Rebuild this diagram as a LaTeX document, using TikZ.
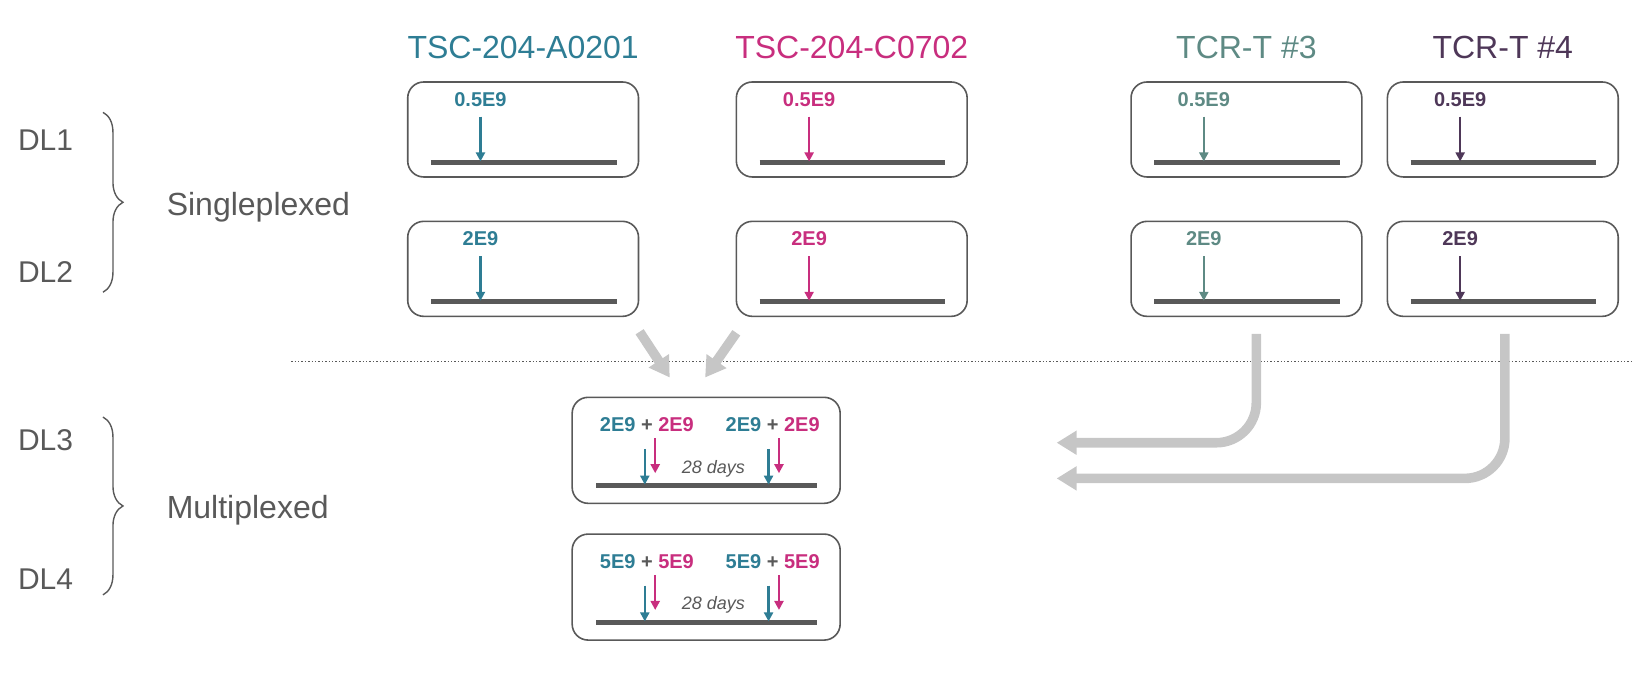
\documentclass[tikz,border=0pt]{standalone}
\usepackage{fontspec}
\setmainfont{Liberation Sans}
\usetikzlibrary{arrows.meta}
\usetikzlibrary{decorations.pathreplacing}
\definecolor{tscA}{RGB}{46,125,148}
\definecolor{tscC}{RGB}{200,46,126}
\definecolor{tcrT}{RGB}{94,138,132}
\definecolor{tcrF}{RGB}{78,55,88}
\definecolor{txtgray}{RGB}{89,89,89}
\definecolor{fatgray}{RGB}{198,198,198}
\tikzset{
    mybox/.style = {rectangle, rounded corners=8pt, draw=txtgray, line width=0.8pt, minimum width=115.4pt, minimum height=47.5pt, inner sep=0pt},
    myboxm/.style = {mybox, minimum width=134pt, minimum height=53pt},
    mytitle/.style = {anchor=base, inner sep=0pt, font=\fontsize{16}{19}\selectfont},
    mylabel/.style = {anchor=base west, inner sep=0pt, text=txtgray, font=\fontsize{15}{18}\selectfont},
    mygroup/.style = {mylabel, font=\fontsize{16}{19}\selectfont},
    mydose/.style = {anchor=base, inner sep=0pt, font=\bfseries\fontsize{10}{12}\selectfont},
    mydays/.style = {anchor=base, inner sep=0pt, text=txtgray, font=\itshape\fontsize{9}{11}\selectfont},
    edgebar/.style = {-, line width=2.5pt, txtgray},
    edget/.style = {-{Triangle[length=4.5pt,width=4.5pt]}, line width=1.1pt, tscA, shorten <=5pt},
    edgem/.style = {-{Triangle[length=4.5pt,width=4.5pt]}, line width=1.1pt, tscC, shorten <=5pt},
    edgeg/.style = {-{Triangle[length=4.5pt,width=4.5pt]}, line width=1.1pt, tcrT, shorten <=5pt},
    edgep/.style = {-{Triangle[length=4.5pt,width=4.5pt]}, line width=1.1pt, tcrF, shorten <=5pt},
    edgef/.style = {-{Triangle[length=10pt,width=11.5pt]}, line width=4.8pt, fatgray}, % merge
    mybrace/.style = {decorate, decoration={brace, amplitude=10pt}, line width=0.7pt, txtgray},
    mydots/.style = {densely dotted, line width=0.7pt, txtgray}
}
\begin{document}
\begin{tikzpicture}[x=0.52pt, y=-0.52pt]
  \useasboundingbox (0,0) rectangle (1570.2,661.5);
  % titles
  \node[mytitle, text=tscA] (ta) at (503,56.5) {TSC-204-A0201};
  \node[mytitle, text=tscC] (tc) at (819,56.5) {TSC-204-C0702};
  \node[mytitle, text=tcrT] (tt) at (1198.5,56.5) {TCR-T \#3};
  \node[mytitle, text=tcrF] (tf) at (1445,56.5) {TCR-T \#4};
  % dose levels
  \node[mylabel] (dl1) at (17,145) {DL1};
  \node[mylabel] (dl2) at (17,272) {DL2};
  \node[mylabel] (dl3) at (17,433) {DL3};
  \node[mylabel] (dl4) at (17,567) {DL4};
  \draw[mybrace] (99,108) -- (99,281);
  \draw[mybrace] (99,401) -- (99,572);
  \node[mygroup] (sg) at (160,207) {Singleplexed};
  \node[mygroup] (mp) at (160,499) {Multiplexed};
  \draw[mydots] (280,347.8) -- (1570.2,347.8);
  % singleplexed boxes
  \node[mybox] (a1) at (503,124.5) {};
  \node[mybox] (c1) at (819,124.5) {};
  \node[mybox] (t1) at (1198.5,124.5) {};
  \node[mybox] (f1) at (1445,124.5) {};
  \node[mybox] (a2) at (503,258.5) {};
  \node[mybox] (c2) at (819,258.5) {};
  \node[mybox] (t2) at (1198.5,258.5) {};
  \node[mybox] (f2) at (1445,258.5) {};
  \foreach \b in {a1,c1,t1,f1,a2,c2,t2,f2}
    \draw[edgebar] ([shift={(12pt,7.8pt)}]\b.south west) -- ([shift={(-11.4pt,7.8pt)}]\b.south east);
  \node[mydose, text=tscA] (la1) at (462,102) {0.5E9};
  \node[mydose, text=tscC] (lc1) at (778,102) {0.5E9};
  \node[mydose, text=tcrT] (lt1) at (1157.5,102) {0.5E9};
  \node[mydose, text=tcrF] (lf1) at (1404,102) {0.5E9};
  \node[mydose, text=tscA] (la2) at (462,236) {2E9};
  \node[mydose, text=tscC] (lc2) at (778,236) {2E9};
  \node[mydose, text=tcrT] (lt2) at (1157.5,236) {2E9};
  \node[mydose, text=tcrF] (lf2) at (1404,236) {2E9};
  \coordinate (pa1) at (462,155.2);
  \coordinate (pc1) at (778,155.2);
  \coordinate (pt1) at (1157.5,155.2);
  \coordinate (pf1) at (1404,155.2);
  \coordinate (pa2) at (462,289.2);
  \coordinate (pc2) at (778,289.2);
  \coordinate (pt2) at (1157.5,289.2);
  \coordinate (pf2) at (1404,289.2);
  \draw[edget] (la1.south) -- (pa1);
  \draw[edgem] (lc1.south) -- (pc1);
  \draw[edgeg] (lt1.south) -- (pt1);
  \draw[edgep] (lf1.south) -- (pf1);
  \draw[edget] (la2.south) -- (pa2);
  \draw[edgem] (lc2.south) -- (pc2);
  \draw[edgeg] (lt2.south) -- (pt2);
  \draw[edgep] (lf2.south) -- (pf2);
  % multiplexed boxes
  \node[myboxm] (m3) at (679,433) {};
  \node[myboxm] (m4) at (679,564.5) {};
  \draw[edgebar] ([shift={(12.5pt,9.4pt)}]m3.south west) -- ([shift={(-12pt,9.4pt)}]m3.south east);
  \draw[edgebar] ([shift={(12.5pt,9.4pt)}]m4.south west) -- ([shift={(-12pt,9.4pt)}]m4.south east);
  \node[mydose] (l31) at (622,415) {\textcolor{tscA}{2E9} \textcolor{txtgray}{+} \textcolor{tscC}{2E9}};
  \node[mydose] (l32) at (743,415) {\textcolor{tscA}{2E9} \textcolor{txtgray}{+} \textcolor{tscC}{2E9}};
  \node[mydose] (l41) at (622,546.5) {\textcolor{tscA}{5E9} \textcolor{txtgray}{+} \textcolor{tscC}{5E9}};
  \node[mydose] (l42) at (743,546.5) {\textcolor{tscA}{5E9} \textcolor{txtgray}{+} \textcolor{tscC}{5E9}};
  \node[mydays] (d3) at (686,455) {28 days};
  \node[mydays] (d4) at (686,586.5) {28 days};
  \coordinate (b31) at (620,466);
  \coordinate (e31) at (630,455);
  \coordinate (b32) at (739,466);
  \coordinate (e32) at (749,455);
  \coordinate (b41) at (620,597.5);
  \coordinate (e41) at (630,586.5);
  \coordinate (b42) at (739,597.5);
  \coordinate (e42) at (749,586.5);
  \draw[edget, shorten <=8.3pt] (l31.south -| b31) -- (b31);
  \draw[edgem, shorten <=3pt] (l31.south -| e31) -- (e31);
  \draw[edget, shorten <=8.3pt] (l32.south -| b32) -- (b32);
  \draw[edgem, shorten <=3pt] (l32.south -| e32) -- (e32);
  \draw[edget, shorten <=8.3pt] (l41.south -| b41) -- (b41);
  \draw[edgem, shorten <=3pt] (l41.south -| e41) -- (e41);
  \draw[edget, shorten <=8.3pt] (l42.south -| b42) -- (b42);
  \draw[edgem, shorten <=3pt] (l42.south -| e42) -- (e42);
  % merging arrows
  \coordinate (fa) at (615,319);
  \coordinate (fc) at (708,320);
  \coordinate (ga) at (644,363);
  \coordinate (gc) at (678,363);
  \coordinate (ft) at (1208,321);
  \coordinate (ff) at (1447,321);
  \coordinate (gt) at (1016,425.7);
  \coordinate (gf) at (1016,460);
  \draw[edgef] (fa) -- (ga);
  \draw[edgef] (fc) -- (gc);
  \draw[edgef, rounded corners=20pt] (ft) |- (gt);
  \draw[edgef, rounded corners=20pt] (ff) |- (gf);
\end{tikzpicture}
\end{document}
